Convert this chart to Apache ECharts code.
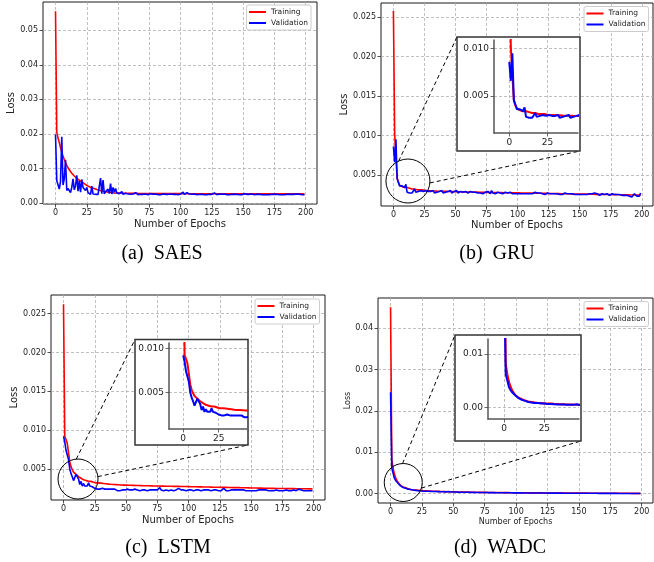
<!DOCTYPE html>
<html><head><meta charset="utf-8">
<script src="https://cdn.jsdelivr.net/npm/echarts@6/dist/echarts.min.js"></script>
<style>html,body{margin:0;padding:0;background:#fff}#chart{width:654px;height:562px}</style>
</head><body><div id="chart"></div>
<script>
// ---------------- DATA ----------------
const seriesNames = ['Training', 'Validation'];
const captions = ['(a)  SAES', '(b)  GRU', '(c)  LSTM', '(d)  WADC'];
const epochTicks = [0, 25, 50, 75, 100, 125, 150, 175, 200];
const insetEpochTicks = [0, 25];
const yTicksA = [0, 0.01, 0.02, 0.03, 0.04, 0.05];
const yTicksB = [0.005, 0.010, 0.015, 0.020, 0.025];
const yTicksC = [0.005, 0.010, 0.015, 0.020, 0.025];
const yTicksD = [0, 0.01, 0.02, 0.03, 0.04];
const insetYTicksB = [0.005, 0.010];
const insetYTicksC = [0.005, 0.010];
const insetYTicksD = [0, 0.01];

const a_train = [
0.0555,0.0205,0.0188,0.0175,0.0160,0.0147,0.0136,0.0126,0.0117,0.0109,
0.0102,0.0096,0.0091,0.0086,0.0082,0.0078,0.0074,0.0071,0.0068,0.0066,
0.0064,0.0061,0.0058,0.0056,0.0053,0.0051,0.0049,0.0047,0.0046,0.0044,
0.0043,0.0042,0.0040,0.0039,0.0038,0.0037,0.0036,0.0035,0.0034,0.0033,
0.0032,0.0032,0.0031,0.0031,0.0030,0.0030,0.0030,0.0029,0.0029,0.0029,
0.0029,0.0029,0.0028,0.0028,0.0028,0.0028,0.0028,0.0028,0.0028,0.0028,
0.00279,0.00278,0.00278,0.00277,0.00277,0.00277,0.00276,0.00276,0.00276,0.00275,
0.00275,0.00275,0.00275,0.00274,0.00274,0.00274,0.00274,0.00273,0.00273,0.00273,
0.00273,0.00273,0.00272,0.00272,0.00272,0.00272,0.00272,0.00271,0.00271,0.00271,
0.00271,0.00271,0.00271,0.00270,0.00270,0.00270,0.00270,0.00270,0.00270,0.00270,
0.00269,0.00269,0.00270,0.00269,0.00269,0.00269,0.00268,0.00269,0.00269,0.00268,
0.00268,0.00268,0.00268,0.00268,0.00268,0.00268,0.00267,0.00268,0.00268,0.00267,
0.00267,0.00267,0.00267,0.00267,0.00268,0.00267,0.00267,0.00267,0.00267,0.00267,
0.00267,0.00267,0.00266,0.00267,0.00267,0.00266,0.00266,0.00266,0.00267,0.00266,
0.00266,0.00266,0.00266,0.00266,0.00266,0.00266,0.00266,0.00265,0.00266,0.00266,
0.00266,0.00266,0.00265,0.00265,0.00266,0.00265,0.00265,0.00265,0.00265,0.00265,
0.00265,0.00265,0.00265,0.00265,0.00265,0.00265,0.00264,0.00265,0.00265,0.00264,
0.00264,0.00265,0.00264,0.00264,0.00264,0.00264,0.00264,0.00264,0.00264,0.00264,
0.00264,0.00264,0.00263,0.00264,0.00264,0.00263,0.00263,0.00264,0.00263,0.00263,
0.00263,0.00263,0.00263,0.00263,0.00263,0.00263,0.00263,0.00262,0.00263,0.00263];
const a_val = [
0.0198,0.0065,0.0068,0.0040,0.0062,0.0192,0.0052,0.0070,0.0125,0.0036,
0.0042,0.0040,0.0030,0.0045,0.0070,0.0038,0.0050,0.0080,0.0034,0.0064,
0.0031,0.0068,0.0045,0.0040,0.0036,0.0045,0.0030,0.0028,0.0025,0.0049,
0.0026,0.0025,0.0025,0.0026,0.0025,0.0027,0.0072,0.0027,0.0066,0.0026,
0.0033,0.0031,0.0040,0.0027,0.0056,0.0026,0.0045,0.0032,0.0042,0.0029,
0.0034,0.0027,0.0026,0.0033,0.0025,0.0026,0.0028,0.0025,0.0026,0.0025,
0.0025,0.0024,0.0026,0.0025,0.0030,0.0025,0.0024,0.0026,0.0025,0.0024,
0.0025,0.0024,0.0026,0.0025,0.0024,0.0025,0.0027,0.0024,0.0025,0.0024,
0.0026,0.0025,0.0024,0.0025,0.0024,0.0025,0.0026,0.0030,0.0025,0.0024,
0.0025,0.0024,0.0026,0.0024,0.0025,0.0024,0.0025,0.0026,0.0024,0.0025,
0.0026,0.0025,0.0031,0.0025,0.0026,0.0030,0.0025,0.0026,0.0031,0.0025,
0.0024,0.0026,0.0025,0.0024,0.0027,0.0025,0.0024,0.0025,0.0026,0.0024,
0.0025,0.0024,0.0026,0.0025,0.0024,0.0025,0.0024,0.0029,0.0025,0.0024,
0.0025,0.0026,0.0024,0.0025,0.0024,0.0026,0.0025,0.0024,0.0025,0.0024,
0.0026,0.0025,0.0024,0.0025,0.0024,0.0025,0.0026,0.0024,0.0025,0.0024,
0.0025,0.0027,0.0024,0.0025,0.0024,0.0025,0.0024,0.0026,0.0025,0.0024,
0.0029,0.0025,0.0024,0.0025,0.0026,0.0024,0.0025,0.0024,0.0025,0.0024,
0.0025,0.0024,0.0026,0.0025,0.0024,0.0025,0.0024,0.0025,0.0026,0.0024,
0.0025,0.0024,0.0025,0.0024,0.0029,0.0025,0.0024,0.0025,0.0024,0.0025,
0.0024,0.0025,0.0024,0.0026,0.0024,0.0025,0.0024,0.0024,0.0025,0.0024];
const b_train = [
0.0258,0.0102,0.0072,0.0046,0.0040,0.0037,0.0036,0.0035,0.0035,0.0034,
0.0034,0.0034,0.0033,0.0033,0.0033,0.0032,0.0032,0.0032,0.0032,0.0031,
0.0031,0.0031,0.0031,0.0031,0.00305,0.00303,0.00302,0.00301,0.00300,0.00299,
0.00298,0.00297,0.00296,0.00296,0.00295,0.00294,0.00294,0.00293,0.00292,0.00292,
0.00291,0.00291,0.00290,0.00290,0.00289,0.00289,0.00288,0.00288,0.00287,0.00287,
0.00287,0.00286,0.00286,0.00285,0.00285,0.00285,0.00284,0.00284,0.00284,0.00283,
0.00283,0.00283,0.00282,0.00282,0.00282,0.00281,0.00281,0.00281,0.00280,0.00280,
0.00280,0.00280,0.00279,0.00279,0.00279,0.00278,0.00278,0.00278,0.00278,0.00277,
0.00277,0.00277,0.00276,0.00276,0.00276,0.00276,0.00275,0.00275,0.00275,0.00274,
0.00274,0.00274,0.00274,0.00273,0.00273,0.00273,0.00272,0.00272,0.00272,0.00272,
0.00271,0.00271,0.00271,0.00270,0.00270,0.00270,0.00270,0.00269,0.00269,0.00269,
0.00268,0.00268,0.00268,0.00268,0.00267,0.00267,0.00267,0.00266,0.00266,0.00266,
0.00266,0.00265,0.00265,0.00265,0.00264,0.00264,0.00264,0.00264,0.00263,0.00263,
0.00263,0.00262,0.00262,0.00262,0.00262,0.00261,0.00261,0.00261,0.00260,0.00260,
0.00260,0.00260,0.00259,0.00259,0.00259,0.00258,0.00258,0.00258,0.00258,0.00257,
0.00257,0.00257,0.00256,0.00256,0.00256,0.00256,0.00255,0.00255,0.00255,0.00254,
0.00254,0.00254,0.00254,0.00253,0.00253,0.00253,0.00252,0.00252,0.00252,0.00252,
0.00251,0.00251,0.00251,0.00250,0.00250,0.00250,0.00250,0.00249,0.00249,0.00249,
0.00248,0.00248,0.00248,0.00248,0.00247,0.00247,0.00247,0.00246,0.00246,0.00246,
0.00246,0.00245,0.00245,0.00245,0.00244,0.00244,0.00244,0.00244,0.00243,0.00243];
const b_val = [
0.0086,0.0066,0.0095,0.0045,0.0041,0.0036,0.0034,0.0036,0.0038,0.0034,
0.0038,0.0028,0.0027,0.0027,0.0027,0.0027,0.0028,0.0032,0.0028,0.0027,
0.0029,0.0027,0.0030,0.0028,0.0029,0.0027,0.0030,0.0028,0.0029,0.0027,
0.0029,0.0028,0.0030,0.0027,0.0029,0.0028,0.0027,0.0029,0.0028,0.0030,
0.0027,0.0029,0.0028,0.0027,0.0029,0.0028,0.0030,0.0027,0.0028,0.0029,
0.0028,0.0030,0.0027,0.0028,0.0029,0.0027,0.0028,0.0027,0.0029,0.0028,
0.0027,0.0028,0.0029,0.0027,0.0028,0.0026,0.0028,0.0029,0.0027,0.0028,
0.0027,0.0028,0.0026,0.0027,0.0028,0.0027,0.0029,0.0027,0.0026,0.0030,
0.0027,0.0028,0.0026,0.0027,0.0028,0.0026,0.0027,0.0028,0.0026,0.0027,
0.0028,0.0026,0.0027,0.0026,0.0028,0.0029,0.0026,0.0027,0.0026,0.0027,
0.0026,0.0027,0.0026,0.0028,0.0026,0.0027,0.0026,0.0027,0.0026,0.0027,
0.0026,0.0027,0.0026,0.0026,0.0028,0.0026,0.0027,0.0026,0.0027,0.0026,
0.0026,0.0027,0.0025,0.0026,0.0027,0.0029,0.0026,0.0025,0.0026,0.0027,
0.0026,0.0025,0.0026,0.0027,0.0025,0.0026,0.0025,0.0026,0.0027,0.0025,
0.0026,0.0025,0.0026,0.0025,0.0026,0.0027,0.0025,0.0026,0.0025,0.0026,
0.0025,0.0026,0.0025,0.0026,0.0025,0.0026,0.0025,0.0025,0.0026,0.0025,
0.0026,0.0025,0.0027,0.0025,0.0026,0.0025,0.0024,0.0025,0.0026,0.0025,
0.0025,0.0024,0.0026,0.0025,0.0024,0.0025,0.0026,0.0024,0.0025,0.0024,
0.0025,0.0024,0.0025,0.0026,0.0024,0.0025,0.0024,0.0025,0.0024,0.0025,
0.0023,0.0022,0.0022,0.0023,0.0026,0.0027,0.0023,0.0022,0.0023,0.0027];
const c_train = [
0.0262,0.0092,0.0088,0.0083,0.0071,0.0059,0.0053,0.0049,0.0046,0.0044,
0.0043,0.0042,0.0040,0.0039,0.0038,0.0037,0.0036,0.0036,0.0035,0.0035,
0.0034,0.0034,0.0034,0.0033,0.0033,0.0033,0.0032,0.0032,0.0032,0.0032,
0.00317,0.00315,0.00313,0.00311,0.00309,0.00307,0.00305,0.00304,0.00302,0.00301,
0.00300,0.00299,0.00298,0.00297,0.00296,0.00295,0.00294,0.00293,0.00292,0.00292,
0.00291,0.00290,0.00290,0.00289,0.00289,0.00288,0.00288,0.00287,0.00287,0.00286,
0.00286,0.00285,0.00285,0.00285,0.00284,0.00284,0.00283,0.00283,0.00283,0.00282,
0.00282,0.00282,0.00281,0.00281,0.00281,0.00280,0.00280,0.00280,0.00279,0.00279,
0.00279,0.00278,0.00278,0.00278,0.00277,0.00277,0.00277,0.00276,0.00276,0.00276,
0.00275,0.00275,0.00275,0.00274,0.00274,0.00274,0.00273,0.00273,0.00273,0.00272,
0.00272,0.00272,0.00271,0.00271,0.00271,0.00270,0.00270,0.00270,0.00269,0.00269,
0.00269,0.00268,0.00268,0.00268,0.00267,0.00267,0.00267,0.00266,0.00266,0.00266,
0.00265,0.00265,0.00265,0.00264,0.00264,0.00264,0.00263,0.00263,0.00263,0.00262,
0.00262,0.00262,0.00261,0.00261,0.00261,0.00260,0.00260,0.00260,0.00259,0.00259,
0.00259,0.00258,0.00258,0.00258,0.00257,0.00257,0.00257,0.00256,0.00256,0.00256,
0.00255,0.00255,0.00255,0.00254,0.00254,0.00254,0.00253,0.00253,0.00253,0.00253,
0.00252,0.00252,0.00252,0.00251,0.00251,0.00251,0.00250,0.00250,0.00250,0.00250,
0.00249,0.00249,0.00249,0.00249,0.00248,0.00248,0.00248,0.00248,0.00247,0.00247,
0.00247,0.00247,0.00246,0.00246,0.00246,0.00246,0.00245,0.00245,0.00245,0.00245,
0.00245,0.00244,0.00244,0.00244,0.00244,0.00244,0.00243,0.00243,0.00243,0.00243];
const c_val = [
0.0092,0.0085,0.0074,0.0072,0.0062,0.0050,0.0044,0.0040,0.0035,0.0036,
0.0043,0.0041,0.0037,0.0030,0.0034,0.0028,0.0031,0.0028,0.0030,0.0028,
0.0032,0.0028,0.0026,0.0027,0.0025,0.0025,0.0026,0.0024,0.0025,0.0024,
0.0024,0.0025,0.0024,0.0024,0.0023,0.0024,0.0026,0.0024,0.0023,0.0024,
0.0023,0.0024,0.0023,0.0022,0.0023,0.0022,0.0023,0.0023,0.0023,0.0023,
0.0023,0.0024,0.0023,0.0023,0.0022,0.0023,0.0023,0.0024,0.0023,0.0023,
0.0023,0.0022,0.0023,0.0023,0.0024,0.0023,0.0023,0.0022,0.0023,0.0023,
0.0023,0.0023,0.0022,0.0023,0.0023,0.0023,0.0022,0.0026,0.0023,0.0023,
0.0022,0.0023,0.0023,0.0023,0.0022,0.0023,0.0023,0.0023,0.0022,0.0023,
0.0023,0.0022,0.0025,0.0023,0.0023,0.0022,0.0023,0.0023,0.0022,0.0023,
0.0023,0.0022,0.0023,0.0023,0.0022,0.0023,0.0023,0.0022,0.0023,0.0023,
0.0022,0.0023,0.0023,0.0022,0.0023,0.0022,0.0023,0.0023,0.0022,0.0023,
0.0023,0.0022,0.0023,0.0023,0.0022,0.0023,0.0022,0.0023,0.0025,0.0023,
0.0022,0.0023,0.0022,0.0023,0.0023,0.0022,0.0023,0.0022,0.0023,0.0022,
0.0023,0.0022,0.0023,0.0022,0.0023,0.0024,0.0022,0.0023,0.0022,0.0023,
0.0022,0.0023,0.0022,0.0023,0.0022,0.0022,0.0023,0.0022,0.0023,0.0022,
0.0023,0.0022,0.0023,0.0022,0.0022,0.0023,0.0022,0.0023,0.0022,0.0022,
0.0023,0.0022,0.0022,0.0023,0.0022,0.0023,0.0022,0.0022,0.0023,0.0022,
0.0022,0.0023,0.0022,0.0022,0.0023,0.0022,0.0022,0.0023,0.0024,0.0022,
0.0023,0.0022,0.0022,0.0023,0.0022,0.0022,0.0022,0.0023,0.0022,0.0022];
const d_train = [
0.0450,0.0082,0.0062,0.0048,0.0039,0.0032,0.0027,0.0023,0.0020,0.0018,
0.0016,0.0015,0.0014,0.0013,0.0012,0.0011,0.0010,0.0010,0.0009,0.0009,
0.0009,0.0008,0.0008,0.0008,0.0008,0.0007,0.0007,0.0007,0.0007,0.0007,
0.00065,0.00064,0.00062,0.00061,0.00060,0.00058,0.00057,0.00056,0.00055,0.00054,
0.00053,0.00052,0.00051,0.00050,0.00049,0.00048,0.00048,0.00047,0.00046,0.00045,
0.00045,0.00044,0.00043,0.00043,0.00042,0.00041,0.00041,0.00040,0.00040,0.00039,
0.00038,0.00038,0.00037,0.00037,0.00036,0.00036,0.00035,0.00035,0.00034,0.00034,
0.00033,0.00033,0.00032,0.00032,0.00032,0.00031,0.00031,0.00030,0.00030,0.00030,
0.00029,0.00029,0.00029,0.00028,0.00028,0.00028,0.00027,0.00027,0.00027,0.00026,
0.00026,0.00026,0.00025,0.00025,0.00025,0.00025,0.00024,0.00024,0.00024,0.00024,
0.00023,0.00023,0.00023,0.00023,0.00022,0.00022,0.00022,0.00022,0.00021,0.00021,
0.00021,0.00021,0.00020,0.00020,0.00020,0.00020,0.00020,0.00019,0.00019,0.00019,
0.00019,0.00019,0.00018,0.00018,0.00018,0.00018,0.00018,0.00017,0.00017,0.00017,
0.00017,0.00017,0.00016,0.00016,0.00016,0.00016,0.00016,0.00016,0.00015,0.00015,
0.00015,0.00015,0.00015,0.00015,0.00014,0.00014,0.00014,0.00014,0.00014,0.00014,
0.00013,0.00013,0.00013,0.00013,0.00013,0.00013,0.00013,0.00012,0.00012,0.00012,
0.00012,0.00012,0.00012,0.00012,0.00011,0.00011,0.00011,0.00011,0.00011,0.00011,
0.00011,0.00011,0.00010,0.00010,0.00010,0.00010,0.00010,0.00010,0.00010,0.00010,
0.00010,0.00010,0.00009,0.00009,0.00009,0.00009,0.00009,0.00009,0.00009,0.00009,
0.00009,0.00009,0.00008,0.00008,0.00008,0.00008,0.00008,0.00008,0.00008,0.00008];
const d_val = [
0.0245,0.0062,0.0050,0.0038,0.0032,0.0028,0.0025,0.0022,0.0019,0.0017,
0.0015,0.0014,0.0013,0.0012,0.0011,0.0010,0.0010,0.0009,0.0009,0.0008,
0.0008,0.0008,0.0007,0.0007,0.0007,0.0007,0.0006,0.0006,0.0006,0.0006,
0.00058,0.00057,0.00056,0.00054,0.00053,0.00052,0.00051,0.00050,0.00049,0.00048,
0.00047,0.00046,0.00046,0.00045,0.00044,0.00058,0.00052,0.00043,0.00042,0.00041,
0.00040,0.00039,0.00039,0.00038,0.00037,0.00037,0.00036,0.00035,0.00035,0.00034,
0.00034,0.00033,0.00033,0.00032,0.00032,0.00031,0.00031,0.00030,0.00030,0.00029,
0.00029,0.00029,0.00028,0.00028,0.00027,0.00027,0.00027,0.00026,0.00026,0.00026,
0.00025,0.00025,0.00025,0.00024,0.00024,0.00024,0.00023,0.00023,0.00023,0.00023,
0.00022,0.00022,0.00022,0.00022,0.00021,0.00021,0.00021,0.00021,0.00020,0.00020,
0.00020,0.00020,0.00019,0.00019,0.00019,0.00019,0.00018,0.00018,0.00018,0.00018,
0.00017,0.00017,0.00017,0.00017,0.00017,0.00016,0.00016,0.00016,0.00016,0.00016,
0.00015,0.00015,0.00015,0.00015,0.00015,0.00014,0.00014,0.00014,0.00014,0.00014,
0.00014,0.00013,0.00013,0.00013,0.00013,0.00013,0.00013,0.00012,0.00012,0.00012,
0.00012,0.00012,0.00012,0.00011,0.00011,0.00011,0.00011,0.00011,0.00011,0.00011,
0.00010,0.00010,0.00010,0.00010,0.00010,0.00010,0.00010,0.00010,0.00009,0.00009,
0.00009,0.00009,0.00009,0.00009,0.00009,0.00008,0.00008,0.00008,0.00008,0.00008,
0.00008,0.00008,0.00008,0.00007,0.00007,0.00007,0.00007,0.00007,0.00007,0.00007,
0.00007,0.00007,0.00006,0.00006,0.00006,0.00006,0.00006,0.00006,0.00006,0.00006,
0.00006,0.00006,0.00006,0.00005,0.00005,0.00005,0.00005,0.00005,0.00005,0.00005];
const epochs = a_train.map((_, i) => i);

// ---------------- LAYOUT / STYLE ----------------
const FONT = 'DejaVu Sans';
const RED = '#ff0000', BLUE = '#0000ff';
const gridLine = { color: '#b0b0b0', width: 0.8, type: [3, 2] };
const panels = [
  { train: a_train, val: a_val, grid: { left: 43, top: 2, width: 274, height: 202 }, ymin: -0.0003, ymax: 0.0582, yTicks: yTicksA, dec: 2, xGap: 15, yGap: 27, nameSize: 10, legend: { left: 246.5, top: 5 }, caption: [162, 254] },
  { train: b_train, val: b_val, grid: { left: 381, top: 3, width: 272, height: 203 }, ymin: 0.00105, ymax: 0.0268, yTicks: yTicksB, dec: 3, xGap: 14, yGap: 32, nameSize: 10, legend: { left: 584, top: 6.5 }, caption: [497, 254] },
  { train: c_train, val: c_val, grid: { left: 51, top: 295, width: 274, height: 205 }, ymin: 0.001, ymax: 0.0274, yTicks: yTicksC, dec: 3, xGap: 15, yGap: 32, nameSize: 10, legend: { left: 255, top: 299 }, caption: [168, 548] },
  { train: d_train, val: d_val, grid: { left: 378, top: 298, width: 275, height: 205 }, ymin: -0.00225, ymax: 0.04725, yTicks: yTicksD, dec: 2, xGap: 15, yGap: 26, nameSize: 8, legend: { left: 584, top: 301.5 }, caption: [500, 548] }
];
const insets = [
  { panel: 1, grid: { left: 494, top: 40, width: 84, height: 93 }, xmax: 45, ymin: 0.0011, ymax: 0.0109, yTicks: insetYTicksB, dec: 3,
    box: { x: 457, y: 37, w: 123, h: 114 }, circle: { c: [11.7, 0.00422], r: 22, a1: 115, a2: -5 } },
  { panel: 2, grid: { left: 169, top: 343, width: 78, height: 86 }, xmax: 45, ymin: 0.00086, ymax: 0.0106, yTicks: insetYTicksC, dec: 3,
    box: { x: 135, y: 339.5, w: 113, h: 105.5 }, circle: { c: [11.6, 0.0037], r: 20, a1: 95, a2: 7 } },
  { panel: 3, grid: { left: 488, top: 339, width: 91, height: 80 }, xmax: 46.5, ymin: -0.0022, ymax: 0.0128, yTicks: insetYTicksD, dec: 2,
    box: { x: 455, y: 335, w: 126, h: 106 }, circle: { c: [10.1, 0.0027], r: 19, a1: 92, a2: -17 } }
];

const pairs = arr => arr.map((v, i) => [epochs[i], v]);
const grids = [], xAxes = [], yAxes = [], series = [], legends = [];

panels.forEach((p, i) => {
  grids.push(Object.assign({ show: true, borderColor: '#1a1a1a', borderWidth: 1, backgroundColor: 'transparent', containLabel: false, outerBoundsMode: 'none' }, p.grid));
  xAxes.push({
    gridIndex: i, type: 'value', min: -10, max: 209, position: 'bottom',
    axisLine: { show: false, onZero: false },
    axisTick: { show: true, customValues: epochTicks, length: 3.5, lineStyle: { color: '#222', width: 0.8 } },
    axisLabel: { customValues: epochTicks, fontSize: 8, color: '#222', fontFamily: FONT, margin: 5, formatter: v => String(Math.round(v)) },
    splitLine: { show: true, lineStyle: gridLine },
    name: 'Number of Epochs', nameLocation: 'middle', nameGap: p.xGap, nameMoveOverlap: false,
    nameTextStyle: { fontSize: p.nameSize, color: '#222', fontFamily: FONT }
  });
  yAxes.push({
    gridIndex: i, type: 'value', min: p.ymin, max: p.ymax, position: 'left',
    axisLine: { show: false, onZero: false },
    axisTick: { show: true, customValues: p.yTicks, length: 3.5, lineStyle: { color: '#222', width: 0.8 } },
    axisLabel: { customValues: p.yTicks, fontSize: 8, color: '#222', fontFamily: FONT, margin: 5, formatter: v => v.toFixed(p.dec) },
    splitLine: { show: true, lineStyle: gridLine },
    name: 'Loss', nameLocation: 'middle', nameGap: p.yGap, nameMoveOverlap: false,
    nameTextStyle: { fontSize: p.nameSize, color: '#222', fontFamily: FONT }
  });
  [[p.train, RED, 0], [p.val, BLUE, 1]].forEach(([d, col, k]) => series.push({
    type: 'line', name: seriesNames[k], xAxisIndex: i, yAxisIndex: i, data: pairs(d),
    showSymbol: false, symbol: 'none', z: 2 + k, color: col,
    lineStyle: { color: col, width: 1.6 }, itemStyle: { color: col }, animation: false
  }));
  legends.push({
    left: p.legend.left, top: p.legend.top, orient: 'vertical', data: seriesNames, icon: 'rect',
    itemWidth: 17, itemHeight: 2, itemGap: 2, selectedMode: false,
    padding: [2.5, 3, 2.5, 2.5], borderColor: '#cccccc', borderWidth: 1, borderRadius: 2,
    backgroundColor: '#fff', z: 20,
    textStyle: { fontSize: 7.5, color: '#222', fontFamily: FONT, lineHeight: 9 }
  });
});

insets.forEach((q, j) => {
  const gi = panels.length + j;
  grids.push(Object.assign({ show: false, containLabel: false, outerBoundsMode: 'none' }, q.grid));
  xAxes.push({
    gridIndex: gi, type: 'value', min: -10, max: q.xmax, position: 'bottom', z: 11,
    axisLine: { show: true, onZero: false, lineStyle: { color: '#555', width: 1.5 } },
    axisTick: { show: true, customValues: insetEpochTicks, length: 3.5, lineStyle: { color: '#444', width: 0.8 } },
    axisLabel: { customValues: insetEpochTicks, fontSize: 9, color: '#222', fontFamily: FONT, margin: 5, formatter: v => String(Math.round(v)) },
    splitLine: { show: true, lineStyle: gridLine }
  });
  yAxes.push({
    gridIndex: gi, type: 'value', min: q.ymin, max: q.ymax, position: 'left', z: 11,
    axisLine: { show: true, onZero: false, lineStyle: { color: '#555', width: 1.5 } },
    axisTick: { show: true, customValues: q.yTicks, length: 3.5, lineStyle: { color: '#444', width: 0.8 } },
    axisLabel: { customValues: q.yTicks, fontSize: 9, color: '#222', fontFamily: FONT, margin: 5, formatter: v => v.toFixed(q.dec) },
    splitLine: { show: true, lineStyle: gridLine }
  });
  const p = panels[q.panel];
  [[p.train, RED, 0], [p.val, BLUE, 1]].forEach(([d, col, k]) => series.push({
    type: 'line', name: seriesNames[k], xAxisIndex: gi, yAxisIndex: gi, data: pairs(d),
    showSymbol: false, symbol: 'none', z: 12 + k, color: col, clip: true,
    lineStyle: { color: col, width: 2 }, itemStyle: { color: col }, animation: false
  }));
});

const chart = echarts.init(document.getElementById('chart'), null, { renderer: 'canvas' });
chart.setOption({
  animation: false, backgroundColor: '#fff',
  grid: grids, xAxis: xAxes, yAxis: yAxes, series: series, legend: legends
});

// decorations: inset frames, zoom circles, connector lines, captions
const deco = [];
insets.forEach(q => {
  const b = q.box;
  deco.push({ type: 'rect', z: 10, shape: { x: b.x, y: b.y, width: b.w, height: b.h }, style: { fill: '#fff', stroke: '#333', lineWidth: 1.5 } });
  const pc = chart.convertToPixel({ gridIndex: q.panel }, q.circle.c);
  const r = q.circle.r;
  deco.push({ type: 'circle', z: 9, shape: { cx: pc[0], cy: pc[1], r: r }, style: { fill: 'none', stroke: '#000', lineWidth: 1 } });
  const a1 = q.circle.a1 * Math.PI / 180, a2 = q.circle.a2 * Math.PI / 180;
  deco.push({ type: 'line', z: 9, shape: { x1: pc[0] + r * Math.cos(a1), y1: pc[1] - r * Math.sin(a1), x2: b.x, y2: b.y }, style: { stroke: '#000', lineWidth: 1, lineDash: [4, 3] } });
  deco.push({ type: 'line', z: 9, shape: { x1: pc[0] + r * Math.cos(a2), y1: pc[1] - r * Math.sin(a2), x2: b.x + b.w, y2: b.y + b.h }, style: { stroke: '#000', lineWidth: 1, lineDash: [4, 3] } });
});
panels.forEach((p, i) => {
  deco.push({ type: 'text', z: 10, x: p.caption[0], y: p.caption[1],
    style: { text: captions[i], fill: '#000', font: '20px "Liberation Serif"', align: 'center', verticalAlign: 'middle', textAlign: 'center', textVerticalAlign: 'middle' } });
});
chart.setOption({ graphic: { elements: deco } });
</script>
</body></html>
